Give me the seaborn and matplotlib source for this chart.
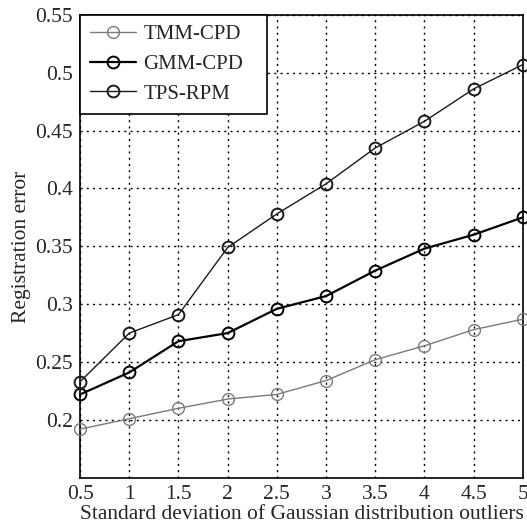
import matplotlib
matplotlib.use("Agg")
import matplotlib.pyplot as plt
import seaborn as sns
import pandas as pd

x = [0.5, 1, 1.5, 2, 2.5, 3, 3.5, 4, 4.5, 5]
tmm_cpd = [0.192, 0.201, 0.210, 0.218, 0.222, 0.234, 0.252, 0.264, 0.278, 0.287]
gmm_cpd = [0.222, 0.241, 0.268, 0.275, 0.296, 0.307, 0.329, 0.348, 0.360, 0.375]
tps_rpm = [0.233, 0.275, 0.291, 0.349, 0.378, 0.404, 0.435, 0.458, 0.486, 0.507]
series = ["TMM-CPD", "GMM-CPD", "TPS-RPM"]
yticks = [0.2, 0.25, 0.3, 0.35, 0.4, 0.45, 0.5, 0.55]
ytick_labels = ["0.2", "0.25", "0.3", "0.35", "0.4", "0.45", "0.5", "0.55"]
xtick_labels = ["0.5", "1", "1.5", "2", "2.5", "3", "3.5", "4", "4.5", "5"]

df = pd.DataFrame({
    "x": x * 3,
    "y": tmm_cpd + gmm_cpd + tps_rpm,
    "method": [series[0]] * len(x) + [series[1]] * len(x) + [series[2]] * len(x),
})

sns.set_style("white")
plt.rcParams["font.family"] = ["Liberation Serif", "DejaVu Serif"]

fig = plt.figure(figsize=(5.27, 5.32), dpi=100)
ax = fig.add_axes([0.152, 0.102, 0.84, 0.87])

colors = {"TMM-CPD": "#7a7a7a", "GMM-CPD": "#000000", "TPS-RPM": "#1a1a1a"}
widths = {"TMM-CPD": 1.0, "GMM-CPD": 1.6, "TPS-RPM": 1.0}
for name in series:
    sub = df[df["method"] == name]
    sns.lineplot(data=sub, x="x", y="y", ax=ax, color=colors[name],
                 linewidth=widths[name], marker="o", markersize=8.5,
                 markerfacecolor="none", markeredgecolor=colors[name],
                 markeredgewidth=1.4 if name != "TMM-CPD" else 1.0,
                 label=name, clip_on=False, zorder=3)

ax.set_xlim(0.5, 5)
ax.set_ylim(0.15, 0.55)
ax.set_xticks(x)
ax.set_xticklabels(xtick_labels)
ax.set_yticks(yticks)
ax.set_yticklabels(ytick_labels)
ax.tick_params(axis="both", labelsize=15.5, direction="in", length=4, color="black", pad=5)
ax.grid(True, color="black", linestyle=(0, (1.5, 3)), linewidth=1.0)
for s in ax.spines.values():
    s.set_color("black")
    s.set_linewidth(1.2)

ax.set_xlabel("Standard deviation of Gaussian distribution outliers", fontsize=15.5, labelpad=1)
ax.set_ylabel("Registration error", fontsize=15.5, labelpad=3)

leg = ax.legend(loc="upper left", bbox_to_anchor=(0, 1, 0.423, 0), mode="expand",
                borderaxespad=0, fontsize=15, frameon=True,
                fancybox=False, edgecolor="black", framealpha=1,
                handlelength=2.2, handletextpad=0.35, labelspacing=0.48,
                borderpad=0.48)
leg.get_frame().set_linewidth(1.2)

fig.savefig("out.png", dpi=100)
